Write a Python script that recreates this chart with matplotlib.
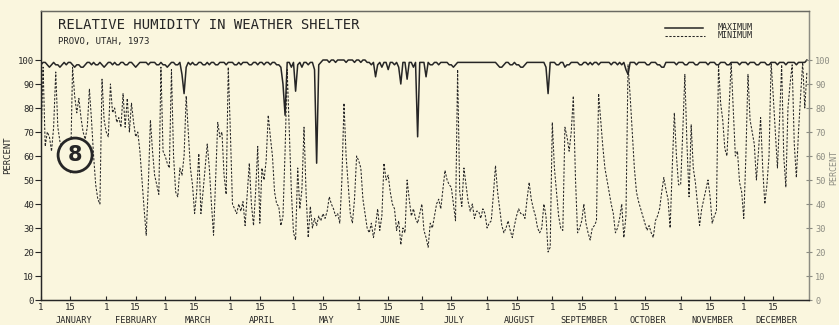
import matplotlib
matplotlib.use("Agg")
import matplotlib.pyplot as plt
from matplotlib.lines import Line2D
from matplotlib.patches import Ellipse

# daily values, Jan 1 = day 0
months = ["JANUARY", "FEBRUARY", "MARCH", "APRIL", "MAY", "JUNE", "JULY",
          "AUGUST", "SEPTEMBER", "OCTOBER", "NOVEMBER", "DECEMBER"]
month_days = [31, 28, 31, 30, 31, 30, 31, 31, 30, 31, 30, 31]

rh_min = [
    # jan
    66, 97, 64, 70, 68, 62, 72, 95, 72, 66, 62, 60, 57, 55, 53, 97, 85, 78, 84, 76,
    70, 67, 72, 88, 75, 60, 48, 42, 40, 92, 75,
    # feb
    70, 68, 90, 78, 80, 74, 76, 72, 86, 72, 84, 70, 82, 74, 68, 70, 62, 50, 38, 27,
    48, 75, 62, 52, 48, 44, 97, 62,
    # mar
    60, 57, 55, 96, 60, 45, 43, 55, 52, 60, 85, 70, 55, 48, 36, 45, 61, 36, 45, 55,
    65, 55, 40, 27, 50, 74, 68, 70, 52, 44, 97,
    # apr
    70, 40, 38, 36, 40, 37, 41, 31, 44, 57, 40, 31, 45, 64, 32, 55, 50, 58, 77, 68,
    60, 45, 40, 39, 31, 35, 62, 96, 70, 45,
    # may
    28, 25, 55, 38, 46, 72, 44, 26, 39, 30, 34, 31, 35, 33, 36, 34, 37, 43, 40, 38,
    35, 36, 32, 50, 82, 60, 48, 36, 32, 42, 60,
    # jun
    58, 55, 42, 36, 30, 28, 32, 26, 31, 38, 29, 35, 57, 50, 52, 45, 40, 38, 29, 33,
    23, 30, 28, 50, 42, 35, 38, 34, 32, 36,
    # jul
    40, 29, 26, 22, 32, 30, 35, 40, 42, 38, 46, 54, 50, 48, 47, 40, 33, 96, 45, 39,
    55, 48, 41, 37, 40, 34, 37, 37, 34, 38, 36,
    # aug
    30, 32, 33, 44, 56, 45, 38, 31, 28, 30, 33, 29, 26, 31, 35, 38, 36, 36, 34, 42,
    49, 42, 38, 35, 30, 28, 30, 40, 35, 20, 22,
    # sep
    74, 55, 45, 35, 30, 29, 72, 68, 62, 70, 85, 51, 28, 30, 33, 40, 32, 28, 25, 30,
    31, 33, 86, 75, 64, 55, 50, 45, 40, 36,
    # oct
    28, 30, 34, 40, 26, 35, 98, 85, 70, 55, 45, 41, 38, 35, 32, 29, 31, 28, 26, 33,
    35, 38, 45, 51, 46, 42, 30, 55, 78, 60, 48,
    # nov
    48, 70, 94, 65, 43, 73, 55, 49, 40, 31, 38, 42, 46, 50, 43, 32, 35, 37, 98, 82,
    75, 63, 60, 80, 99, 80, 60, 62, 49, 45,
    # dec
    34, 60, 94, 75, 70, 65, 50, 62, 76, 55, 40, 48, 60, 99, 85, 70, 55, 75, 98, 60,
    47, 80, 90, 98, 65, 51, 70, 85, 99, 80, 95,
]

rh_max = [
    # jan
    98, 99, 99, 98, 97, 98, 99, 98, 98, 97, 98, 99, 98, 99, 99, 98, 97, 98, 98, 97,
    97, 98, 99, 99, 98, 99, 98, 98, 99, 98, 97,
    # feb
    98, 99, 99, 98, 99, 98, 98, 99, 99, 98, 98, 99, 99, 98, 97, 98, 99, 99, 99, 99,
    98, 99, 99, 99, 98, 98, 99, 98,
    # mar
    98, 97, 98, 99, 99, 98, 98, 99, 94, 86, 97, 99, 98, 99, 98, 98, 99, 99, 98, 98,
    99, 98, 99, 99, 98, 98, 99, 99, 99, 98, 99,
    # apr
    99, 99, 98, 98, 99, 98, 99, 99, 99, 98, 98, 99, 99, 98, 99, 99, 98, 99, 99, 98,
    99, 99, 98, 98, 97, 90, 77, 99, 99, 97,
    # may
    99, 87, 98, 99, 97, 99, 99, 98, 99, 99, 96, 57, 98, 99, 100, 100, 100, 99, 100, 100,
    99, 100, 100, 100, 100, 99, 100, 100, 100, 99, 100,
    # jun
    100, 99, 100, 100, 99, 99, 98, 99, 93, 98, 99, 97, 99, 99, 96, 99, 99, 98, 99, 97,
    90, 99, 99, 92, 99, 99, 97, 99, 68, 99,
    # jul
    99, 99, 93, 99, 98, 98, 99, 99, 98, 99, 99, 99, 99, 98, 98, 97, 98, 99, 99, 99,
    99, 99, 99, 99, 99, 99, 99, 99, 99, 99, 99,
    # aug
    99, 99, 99, 99, 99, 98, 97, 97, 98, 99, 99, 98, 98, 99, 98, 98, 97, 97, 98, 99,
    99, 99, 99, 99, 99, 99, 99, 99, 97, 86, 99,
    # sep
    99, 99, 98, 98, 99, 99, 97, 98, 98, 99, 99, 99, 99, 98, 98, 99, 99, 98, 99, 98,
    99, 99, 98, 99, 99, 99, 99, 99, 98, 99,
    # oct
    99, 98, 99, 98, 99, 96, 94, 99, 99, 99, 98, 99, 99, 99, 99, 98, 98, 99, 99, 99,
    98, 98, 97, 97, 99, 99, 99, 99, 99, 98, 99,
    # nov
    99, 99, 98, 98, 99, 99, 99, 98, 98, 99, 99, 99, 99, 98, 99, 99, 99, 98, 98, 99,
    99, 99, 98, 98, 99, 99, 99, 99, 98, 99,
    # dec
    99, 99, 98, 99, 99, 99, 98, 98, 99, 99, 99, 98, 98, 99, 99, 99, 98, 99, 99, 99,
    98, 99, 99, 99, 99, 98, 99, 99, 99, 99, 100,
]

days = list(range(len(rh_min)))
y_ticks = [0, 10, 20, 30, 40, 50, 60, 70, 80, 90, 100]

BG = "#faf6de"
INK = "#262626"
FADED = "#8c8c82"
FONT = "DejaVu Sans Mono"
YTOP = 289 / 2.4

fig = plt.figure(figsize=(8.39, 3.25), dpi=100, facecolor=BG)
ax = fig.add_axes([41 / 839, 25 / 325, 768 / 839, 289 / 325])
ax.set_facecolor(BG)

ax.plot(days, rh_max, color=INK, lw=1.1, solid_joinstyle="round")
ax.plot(days, rh_min, color=INK, lw=0.75, linestyle=(0, (2.2, 1.5)))

ax.set_xlim(0, 365)
ax.set_ylim(0, YTOP)

# month ticks: 1st and 15th
starts = [0]
for n in month_days[:-1]:
    starts.append(starts[-1] + n)
tick_pos, tick_lab = [], []
for s in starts:
    tick_pos += [s, s + 14]
    tick_lab += ["1", "15"]
ax.set_xticks(tick_pos)
ax.set_xticklabels(tick_lab, fontsize=6.5, family=FONT, color=INK)
ax.tick_params(axis="x", direction="in", length=3, pad=2, colors=INK)

for s, n, name in zip(starts, month_days, months):
    ax.text(s + n / 2, -0.071, name, transform=ax.get_xaxis_transform(),
            ha="center", va="center", fontsize=6.2, family=FONT, color=INK)

ax.set_yticks(y_ticks)
ax.set_yticklabels([str(v) for v in y_ticks], fontsize=6.5, family=FONT, color=INK)
ax.tick_params(axis="y", direction="out", length=4, pad=1, colors=INK)

# right-hand scale, fainter as on the original
ax2 = ax.twinx()
ax2.set_ylim(0, YTOP)
ax2.set_yticks(y_ticks)
ax2.set_yticklabels([str(v) for v in y_ticks], fontsize=6.2, family=FONT, color=FADED)
ax2.tick_params(axis="y", direction="inout", length=5, pad=2, colors=FADED)

for a in (ax, ax2):
    for sp in a.spines.values():
        sp.set_color(INK)
        sp.set_linewidth(0.9)
    a.spines["right"].set_color(FADED)
    a.spines["top"].set_color("#6a6a62")

ax.set_ylabel("PERCENT", fontsize=6.5, family=FONT, color=INK, labelpad=4)
ax.text(1.0325, 55.4 / YTOP, "PERCENT", transform=ax.transAxes,
        rotation=90, ha="center", va="center", fontsize=6, family=FONT,
        color=FADED)

# titles inside the frame
ax.text(0.022, 0.95, "RELATIVE HUMIDITY IN WEATHER SHELTER", transform=ax.transAxes,
        ha="left", va="center", fontsize=10, family=FONT, color=INK)
ax.text(0.022, 0.895, "PROVO, UTAH, 1973", transform=ax.transAxes,
        ha="left", va="center", fontsize=6.5, family=FONT, color=INK)

# legend
ax.add_line(Line2D([0.8125, 0.862], [0.941, 0.941], transform=ax.transAxes,
                   color=INK, lw=1.1))
ax.add_line(Line2D([0.8125, 0.864], [0.913, 0.913], transform=ax.transAxes,
                   color=INK, lw=0.75, linestyle=(0, (2.2, 1.5))))
ax.text(0.881, 0.944, "MAXIMUM", transform=ax.transAxes, ha="left", va="center",
        fontsize=6, family=FONT, color=INK)
ax.text(0.881, 0.915, "MINIMUM", transform=ax.transAxes, ha="left", va="center",
        fontsize=6, family=FONT, color=INK)

# figure number badge
badge = Ellipse((16.2, 60.4), 34 / 2.104, 34 / 2.4, facecolor=BG, edgecolor=INK,
                lw=2.0, zorder=5)
ax.add_patch(badge)
ax.text(16.2, 60.4, "8", ha="center", va="center", fontsize=15, fontweight="bold",
        family="DejaVu Sans", color=INK, zorder=6)

fig.savefig("out.png", dpi=100, facecolor=BG)
